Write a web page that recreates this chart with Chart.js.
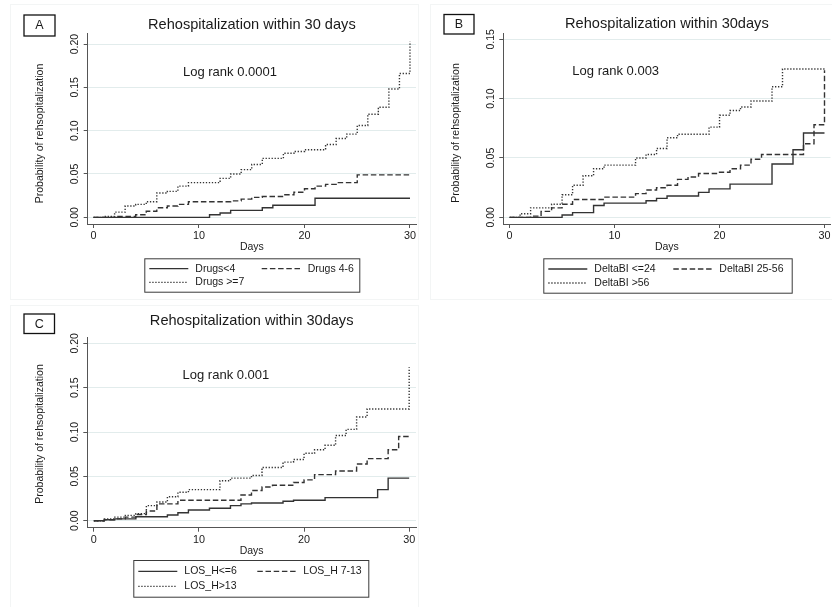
<!DOCTYPE html>
<html>
<head>
<meta charset="utf-8">
<script src="https://cdn.jsdelivr.net/npm/chart.js@4.4.1/dist/chart.umd.min.js"></script>
<style>
body{margin:0;background:#fff;}
#wrap{position:relative;width:832px;height:607px;overflow:hidden;background:#fff;}
#wrap canvas{position:absolute;left:0;top:0;}
.frame{position:absolute;border:1px solid #f3f5f5;}
</style>
</head>
<body>
<div id="wrap">
<div class="frame" style="left:10px;top:4px;width:407px;height:294px"></div>
<div class="frame" style="left:430px;top:4px;width:420px;height:294px"></div>
<div class="frame" style="left:10px;top:305px;width:407px;height:320px"></div>
<canvas id="gA" width="832" height="607"></canvas>
<canvas id="gB" width="832" height="607"></canvas>
<canvas id="gC" width="832" height="607"></canvas>
</div>
<script>
// ticks
const xTicks = [0, 10, 20, 30];
const yTicksA = [0, 0.05, 0.10, 0.15, 0.20];
const yLabelsA = ['0.00', '0.05', '0.10', '0.15', '0.20'];
const yTicksB = [0, 0.05, 0.10, 0.15];
const yLabelsB = ['0.00', '0.05', '0.10', '0.15'];

// A - number of drugs
const labelsA = ['Drugs<4', 'Drugs 4-6', 'Drugs >=7'];
const daysA1 = [0, 11, 12, 13, 16, 17, 21, 30];
const probA1 = [0, 0.003, 0.005, 0.008, 0.011, 0.014, 0.022, 0.022];
const daysA2 = [0, 2, 4, 5, 6, 7, 8, 9, 13, 14, 15, 16, 18, 19, 20, 21, 22, 23, 25, 30];
const probA2 = [0, 0.001, 0.003, 0.007, 0.011, 0.013, 0.015, 0.018, 0.019, 0.021, 0.023, 0.024, 0.026, 0.029, 0.033, 0.036, 0.038, 0.040, 0.049, 0.049];
const daysA3 = [0, 1, 2, 3, 4, 5, 6, 7, 8, 9, 12, 13, 14, 15, 16, 18, 19, 20, 22, 23, 24, 25, 26, 27, 28, 29, 30];
const probA3 = [0, 0.001, 0.006, 0.013, 0.015, 0.018, 0.028, 0.030, 0.036, 0.040, 0.045, 0.050, 0.055, 0.061, 0.068, 0.074, 0.076, 0.078, 0.084, 0.091, 0.096, 0.106, 0.119, 0.127, 0.148, 0.166, 0.203];

// B - DeltaBI
const labelsB = ['DeltaBI <=24', 'DeltaBI 25-56', 'DeltaBI >56'];
const daysB1 = [0, 5, 6, 8, 9, 13, 14, 15, 18, 19, 21, 25, 27, 28, 30];
const probB1 = [0, 0.002, 0.004, 0.010, 0.012, 0.014, 0.016, 0.018, 0.021, 0.024, 0.028, 0.045, 0.057, 0.071, 0.071];
const daysB2 = [0, 2, 3, 4, 5, 6, 9, 12, 13, 14, 15, 16, 17, 18, 20, 21, 22, 23, 24, 28, 29, 30];
const probB2 = [0, 0.001, 0.005, 0.008, 0.011, 0.015, 0.017, 0.020, 0.023, 0.025, 0.027, 0.032, 0.034, 0.037, 0.038, 0.041, 0.044, 0.049, 0.053, 0.062, 0.078, 0.124];
const daysB3 = [0, 1, 2, 4, 5, 6, 7, 8, 9, 12, 13, 14, 15, 16, 19, 20, 21, 22, 23, 25, 26, 30];
const probB3 = [0, 0.003, 0.008, 0.011, 0.019, 0.027, 0.035, 0.041, 0.044, 0.050, 0.053, 0.058, 0.067, 0.070, 0.076, 0.086, 0.090, 0.093, 0.098, 0.110, 0.125, 0.125];

// C - length of stay
const labelsC = ['LOS_H<=6', 'LOS_H 7-13', 'LOS_H>13'];
const daysC1 = [0, 1, 2, 4, 7, 8, 9, 11, 13, 14, 15, 18, 19, 22, 27, 28, 30];
const probC1 = [0, 0.001, 0.002, 0.0045, 0.0065, 0.009, 0.012, 0.014, 0.017, 0.019, 0.020, 0.022, 0.023, 0.026, 0.035, 0.048, 0.048];
const daysC2 = [0, 1, 2, 3, 4, 5, 6, 8, 14, 15, 16, 17, 19, 20, 21, 23, 25, 26, 28, 29, 30];
const probC2 = [0, 0.001, 0.002, 0.004, 0.007, 0.011, 0.019, 0.023, 0.029, 0.034, 0.038, 0.040, 0.043, 0.046, 0.052, 0.056, 0.064, 0.070, 0.080, 0.095, 0.095];
const daysC3 = [0, 1, 2, 3, 4, 5, 6, 7, 8, 9, 12, 13, 15, 16, 18, 19, 20, 21, 22, 23, 24, 25, 26, 30];
const probC3 = [0, 0.002, 0.004, 0.006, 0.008, 0.017, 0.021, 0.027, 0.032, 0.035, 0.045, 0.048, 0.051, 0.060, 0.066, 0.069, 0.076, 0.080, 0.085, 0.096, 0.103, 0.117, 0.126, 0.173];

const FONT = '"Liberation Sans", Arial, Helvetica, sans-serif';
const W = 832, H = 607;
Chart.defaults.font.family = FONT;

const estilos = [
    {dash: [], width: 1.4},
    {dash: [5.5, 2.7], width: 1.4},
    {dash: [1.3, 1.7], width: 1.4}
];

function serie(days, prob, label, i){
    return {
        label: label,
        data: days.map((d, k) => ({x: d, y: prob[k]})),
        borderColor: `#333`,
        borderWidth: estilos[i].width,
        borderDash: estilos[i].dash,
        pointRadius: 0,
        stepped: 'before',
        fill: false
    };
}

// titles, letter box, rotated y labels, note and legend
const decor = {
    id: 'decor',
    afterDraw(chart, args, o){
        const ctx = chart.ctx;
        const area = chart.chartArea;
        const xs = chart.scales.x, ys = chart.scales.y;
        const cx = (area.left + area.right) / 2;
        ctx.save();
        ctx.fillStyle = `#1a1a1a`;

        ctx.strokeStyle = `#111`;
        ctx.lineWidth = 1.3;
        ctx.strokeRect(o.box[0], o.box[1], o.box[2], o.box[3]);
        ctx.font = `12.5px ${FONT}`;
        ctx.textAlign = 'center';
        ctx.textBaseline = 'middle';
        ctx.fillText(o.letter, o.box[0] + o.box[2] / 2, o.box[1] + o.box[3] / 2 + 0.5);

        ctx.font = `14.6px ${FONT}`;
        ctx.textBaseline = 'alphabetic';
        ctx.fillText(o.title, cx, o.titleY);

        ctx.font = `13px ${FONT}`;
        ctx.textAlign = 'left';
        ctx.fillText(o.note, xs.getPixelForValue(o.noteAt[0]), ys.getPixelForValue(o.noteAt[1]));

        ctx.font = `10.5px ${FONT}`;
        o.yTicks.forEach((v, i) => {
            ctx.save();
            ctx.translate(area.left - 12.5, ys.getPixelForValue(v));
            ctx.rotate(-Math.PI / 2);
            ctx.textAlign = 'center';
            ctx.textBaseline = 'middle';
            ctx.fillText(o.yLabels[i], 0, 0);
            ctx.restore();
        });

        ctx.save();
        ctx.translate(area.left - 47.5, o.yTitleY);
        ctx.rotate(-Math.PI / 2);
        ctx.textAlign = 'center';
        ctx.textBaseline = 'middle';
        ctx.fillText('Probability of rehsopitalization', 0, 0);
        ctx.restore();

        ctx.textAlign = 'center';
        ctx.textBaseline = 'alphabetic';
        ctx.fillText('Days', cx, area.bottom + 26.2);

        const lg = o.legend;
        ctx.strokeStyle = `#3a3a3a`;
        ctx.lineWidth = 1;
        ctx.strokeRect(lg.left + 0.5, lg.top + 0.5, lg.width, lg.height);
        const r1 = lg.top + lg.height * 0.31, r2 = lg.top + lg.height * 0.72;
        const slots = [[lg.left + 5, r1], [lg.left + lg.col2, r1], [lg.left + 5, r2]];
        chart.data.datasets.forEach((ds, i) => {
            const sx = slots[i][0], sy = slots[i][1];
            ctx.save();
            ctx.strokeStyle = ds.borderColor;
            ctx.lineWidth = ds.borderWidth;
            ctx.setLineDash(ds.borderDash);
            ctx.beginPath();
            ctx.moveTo(sx, sy);
            ctx.lineTo(sx + 39, sy);
            ctx.stroke();
            ctx.restore();
            ctx.textAlign = 'left';
            ctx.textBaseline = 'middle';
            ctx.fillText(ds.label, sx + 46, sy);
        });
        ctx.restore();
    }
};

function grafico(id, series, labels, p){
    let config = {
        type: 'line',
        data: {
            datasets: series.map((s, i) => serie(s[0], s[1], labels[i], i))
        },
        options: {
            responsive: false,
            animation: false,
            devicePixelRatio: 1,
            events: [],
            layout: {padding: {left: 0, top: p.area.top, right: W - p.area.right, bottom: 0}},
            plugins: {
                legend: {display: false},
                title: {display: false},
                tooltip: {enabled: false},
                decor: p
            },
            scales: {
                x: {
                    type: 'linear',
                    min: p.x[0],
                    max: p.x[1],
                    afterBuildTicks: s => { s.ticks = xTicks.map(v => ({value: v})); },
                    afterFit: s => { s.height = H - p.area.bottom; },
                    ticks: {
                        callback: v => String(v),
                        font: {size: 10.8},
                        color: `#1a1a1a`,
                        padding: 1.5,
                        maxRotation: 0,
                        autoSkip: false
                    },
                    grid: {drawOnChartArea: false, tickLength: 4, tickColor: `#555`},
                    border: {color: `#555`, width: 1}
                },
                y: {
                    type: 'linear',
                    min: p.y[0],
                    max: p.y[1],
                    afterBuildTicks: s => { s.ticks = p.yTicks.map(v => ({value: v})); },
                    afterFit: s => { s.width = p.area.left; },
                    ticks: {color: `rgba(0,0,0,0)`, font: {size: 10.5}},
                    grid: {color: `#e2ecec`, tickLength: 4, tickColor: `#555`},
                    border: {color: `#555`, width: 1}
                }
            }
        },
        plugins: [decor]
    };
    return new Chart(document.getElementById(id), config);
}

grafico('gA', [[daysA1, probA1], [daysA2, probA2], [daysA3, probA3]], labelsA, {
    area: {left: 87.7, top: 33, right: 416, bottom: 224},
    x: [-0.55, 30.57], y: [-0.0077, 0.2127],
    yTicks: yTicksA, yLabels: yLabelsA,
    letter: 'A', box: [24, 15, 31, 21],
    title: 'Rehospitalization within 30 days', titleY: 29.3,
    note: 'Log rank 0.0001', noteAt: [8.48, 0.1632],
    yTitleY: 133.5,
    legend: {left: 144.3, top: 258.3, width: 215, height: 33.4, col2: 117.4}
});

grafico('gB', [[daysB1, probB1], [daysB2, probB2], [daysB3, probB3]], labelsB, {
    area: {left: 503.3, top: 33, right: 832, bottom: 224},
    x: [-0.6, 30.57], y: [-0.0056, 0.1553],
    yTicks: yTicksB, yLabels: yLabelsB,
    letter: 'B', box: [444, 14.5, 30, 19.5],
    title: 'Rehospitalization within 30days', titleY: 28.3,
    note: 'Log rank 0.003', noteAt: [5.98, 0.1199],
    yTitleY: 133,
    legend: {left: 543.3, top: 258.3, width: 248.4, height: 34.4, col2: 130}
});

grafico('gC', [[daysC1, probC1], [daysC2, probC2], [daysC3, probC3]], labelsC, {
    area: {left: 87.3, top: 337.3, right: 416, bottom: 527.7},
    x: [-0.62, 30.65], y: [-0.0079, 0.2068],
    yTicks: yTicksA, yLabels: yLabelsA,
    letter: 'C', box: [24, 314, 30.5, 19.5],
    title: 'Rehospitalization within 30days', titleY: 325,
    note: 'Log rank 0.001', noteAt: [8.44, 0.1594],
    yTitleY: 434,
    legend: {left: 133.3, top: 560, width: 235, height: 36.7, col2: 124}
});
</script>
</body>
</html>
